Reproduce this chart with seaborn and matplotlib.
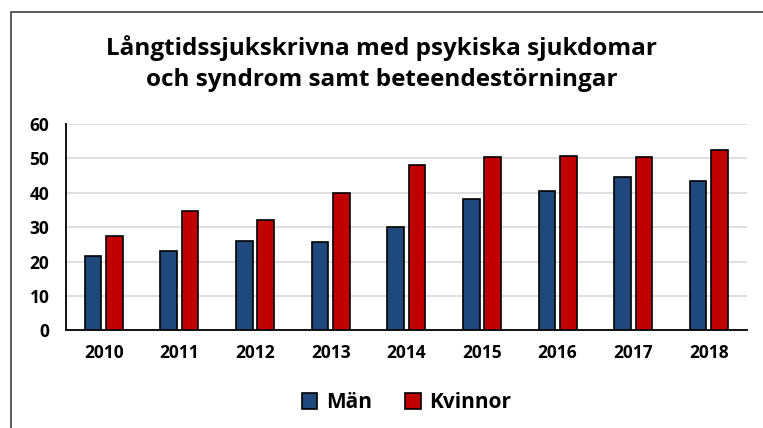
import matplotlib.pyplot as plt
import pandas as pd
import seaborn as sns
from matplotlib.patches import Rectangle

years = ['2010', '2011', '2012', '2013', '2014', '2015', '2016', '2017', '2018']
man = [21.7, 23.0, 26.0, 25.7, 29.9, 38.0, 40.4, 44.6, 43.3]
kvinnor = [27.4, 34.8, 32.1, 39.8, 47.9, 50.2, 50.6, 50.3, 52.3]
series = ['Män', 'Kvinnor']
colors = ['#1F497D', '#C00000']

df = pd.DataFrame({'År': years * 2,
                   'Värde': man + kvinnor,
                   'Kön': [series[0]] * len(years) + [series[1]] * len(years)})

sns.set_style('white')
plt.rcParams['font.family'] = ['Open Sans', 'DejaVu Sans']
plt.rcParams['text.color'] = 'black'
plt.rcParams['xtick.color'] = 'black'
plt.rcParams['ytick.color'] = 'black'

fig = plt.figure(figsize=(7.63, 4.28), dpi=100)
ax = fig.add_axes([0.0865, 0.228, 0.892, 0.483])

sns.barplot(data=df, x='År', y='Värde', hue='Kön', palette=colors,
            saturation=1, width=0.564, gap=0.22, edgecolor='black',
            linewidth=1.2, ax=ax, zorder=3)

ax.set_ylim(0, 60)
ax.set_yticks(range(0, 61, 10))
ax.set_xlim(-0.5, len(years) - 0.5)
ax.yaxis.grid(True, color='#d9d9d9', linewidth=1.2, zorder=0)
ax.set_axisbelow(True)
for side in ['top', 'right']:
    ax.spines[side].set_visible(False)
for side in ['left', 'bottom']:
    ax.spines[side].set_color('black')
    ax.spines[side].set_linewidth(1.3)
ax.tick_params(length=0, labelsize=12.5)
ax.tick_params(axis='y', pad=12)
ax.tick_params(axis='x', pad=10)
for lab in ax.get_xticklabels() + ax.get_yticklabels():
    lab.set_fontweight('bold')
ax.set_xlabel('')
ax.set_ylabel('')

ax.legend(loc='center', bbox_to_anchor=(0.5, -0.35), ncol=2, frameon=False,
          prop={'weight': 'bold', 'size': 15}, handlelength=0.75,
          handleheight=0.75, columnspacing=1.6, handletextpad=0.4)

fig.text(0.5, 0.852, 'Långtidssjukskrivna med psykiska sjukdomar\noch syndrom samt beteendestörningar',
         ha='center', va='center', fontsize=17.5, fontweight='bold',
         linespacing=1.4, color='black')

fig.patches.append(Rectangle((11 / 763, -0.1), 1.2, 1.1 - 12 / 428,
                             transform=fig.transFigure, fill=False,
                             edgecolor='#404040', linewidth=1.2))

fig.savefig('out.png', dpi=100)
